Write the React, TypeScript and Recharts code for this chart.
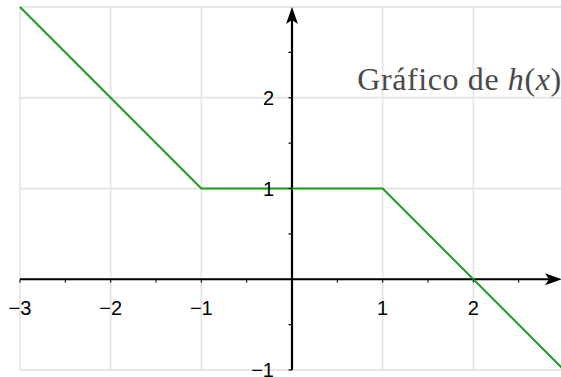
import React from 'react';
import { LineChart, Line, XAxis, YAxis, CartesianGrid, ReferenceLine, ReferenceDot } from 'recharts';

// h(x): piecewise linear
const xs = [-3, -1, 1, 3];
const hValues = [3, 1, 1, -1];

const xGrid = [-3, -2, -1, 0, 1, 2, 3];
const yGrid = [-1, 0, 1, 2, 3];
const xLabels = [-3, -2, -1, 1, 2];
const yLabels = [-1, 1, 2];
const xMinor = [-2.5, -1.5, -0.5, 0.5, 1.5, 2.5];
const yMinor = [-0.5, 0.5, 1.5, 2.5];

const titleText = 'Gráfico de ';
const titleAt = { x: 0.72, y: 2.08 };

const data = xs.map((x, i) => ({ x, h: hValues[i] }));

const fmt = (v: number) => (v < 0 ? '\u2212' + Math.abs(v) : String(v));

const tickFont = '"Liberation Sans", Arial, sans-serif';

const XTickMark = (p: any) => (
  <line x1={p.cx} y1={p.cy} x2={p.cx} y2={p.cy + 3.5} stroke="#000" strokeWidth={1} />
);
const YTickMark = (p: any) => (
  <line x1={p.cx} y1={p.cy} x2={p.cx - 3.5} y2={p.cy} stroke="#000" strokeWidth={1.2} />
);

export default function App() {
  return (
    <div style={{ position: 'absolute', left: 0, top: 0, width: 561, height: 377, overflow: 'hidden', background: '#fff' }}>
      <LineChart width={564} height={377} data={data} margin={{ top: 7, right: 0, bottom: 7, left: 20 }}>
        <CartesianGrid stroke="#e6e6e6" strokeWidth={1.8} />
        <XAxis dataKey="x" type="number" domain={[-3, 3]} ticks={xGrid} hide />
        <YAxis type="number" domain={[-1, 3]} ticks={yGrid} hide />

        {/* axes */}
        <ReferenceLine segment={[{ x: -3, y: 0 }, { x: 2.9, y: 0 }]} stroke="#000" strokeWidth={2.2} />
        <ReferenceLine segment={[{ x: 0, y: -1 }, { x: 0, y: 2.9 }]} stroke="#000" strokeWidth={2.2} />

        {xMinor.concat(xGrid.filter((v) => v !== 0 && v !== 3)).map((v) => (
          <ReferenceDot key={'xt' + v} x={v} y={0} r={0} shape={XTickMark} />
        ))}
        {yMinor.concat(yLabels).map((v) => (
          <ReferenceDot key={'yt' + v} x={0} y={v} r={0} shape={YTickMark} />
        ))}

        <Line
          type="linear"
          dataKey="h"
          stroke="#1f9b1f"
          strokeWidth={2}
          dot={false}
          isAnimationActive={false}
        />

        {/* arrow heads */}
        <ReferenceDot
          x={3}
          y={0}
          r={0}
          shape={(p: any) => (
            <path
              d={`M${p.cx - 2},${p.cy} L${p.cx - 19},${p.cy - 6} L${p.cx - 15},${p.cy} L${p.cx - 19},${p.cy + 6} Z`}
              fill="#000"
            />
          )}
        />
        <ReferenceDot
          x={0}
          y={3}
          r={0}
          shape={(p: any) => (
            <path
              d={`M${p.cx},${p.cy} L${p.cx - 6},${p.cy + 17} L${p.cx},${p.cy + 13} L${p.cx + 6},${p.cy + 17} Z`}
              fill="#000"
            />
          )}
        />

        {/* tick labels */}
        {xLabels.map((v) => (
          <ReferenceDot
            key={'xl' + v}
            x={v}
            y={0}
            r={0}
            shape={(p: any) => (
              <text x={p.cx} y={p.cy + 36} textAnchor="middle" fontFamily={tickFont} fontSize={20} fill="#000">
                {fmt(v)}
              </text>
            )}
          />
        ))}
        {yLabels.map((v) => (
          <ReferenceDot
            key={'yl' + v}
            x={0}
            y={v}
            r={0}
            shape={(p: any) => (
              <text x={p.cx - 18} y={p.cy + 7} textAnchor="end" fontFamily={tickFont} fontSize={20} fill="#000">
                {fmt(v)}
              </text>
            )}
          />
        ))}

        {/* title */}
        <ReferenceDot
          x={titleAt.x}
          y={titleAt.y}
          r={0}
          shape={(p: any) => (
            <text x={p.cx} y={p.cy} fontFamily='"Liberation Serif", serif' fontSize={32} letterSpacing={0.6} fill="#4a4a4a">
              {titleText}
              <tspan fontStyle="italic">h</tspan>(<tspan fontStyle="italic">x</tspan>)
            </text>
          )}
        />
      </LineChart>
    </div>
  );
}
